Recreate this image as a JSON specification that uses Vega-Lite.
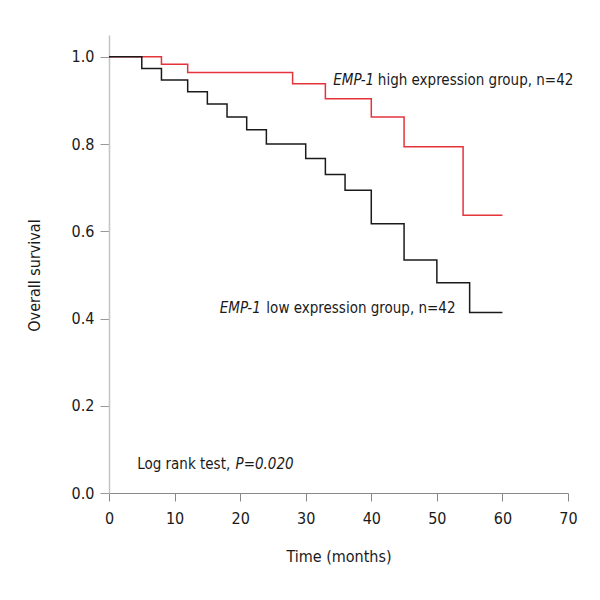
{
  "$schema": "https://vega.github.io/schema/vega-lite/v6.json",
  "autosize": {"type": "none"},
  "width": 459,
  "height": 458,
  "padding": {"left": 109, "top": 35, "right": 32, "bottom": 107},
  "background": "white",
  "config": {
    "view": {"stroke": null},
    "font": "DejaVu Sans Condensed",
    "axis": {"labelFont": "DejaVu Sans Condensed", "titleFont": "DejaVu Sans Condensed", "labelFontSize": 16, "titleFontSize": 16, "titleFontWeight": "normal", "labelColor": "#1a1a1a", "titleColor": "#1a1a1a", "grid": false, "labelFlush": false}
  },
  "datasets": {
    "curves": [
      {"group": "high", "time": 0, "survival": 1.0},
      {"group": "high", "time": 8, "survival": 0.983},
      {"group": "high", "time": 12, "survival": 0.964},
      {"group": "high", "time": 28, "survival": 0.938},
      {"group": "high", "time": 33, "survival": 0.904},
      {"group": "high", "time": 40, "survival": 0.862},
      {"group": "high", "time": 45, "survival": 0.794},
      {"group": "high", "time": 54, "survival": 0.637},
      {"group": "high", "time": 60, "survival": 0.637},
      {"group": "low", "time": 0, "survival": 1.0},
      {"group": "low", "time": 5, "survival": 0.973},
      {"group": "low", "time": 8, "survival": 0.947},
      {"group": "low", "time": 12, "survival": 0.92},
      {"group": "low", "time": 15, "survival": 0.892},
      {"group": "low", "time": 18, "survival": 0.862},
      {"group": "low", "time": 21, "survival": 0.833},
      {"group": "low", "time": 24, "survival": 0.8},
      {"group": "low", "time": 30, "survival": 0.767},
      {"group": "low", "time": 33, "survival": 0.73},
      {"group": "low", "time": 36, "survival": 0.694},
      {"group": "low", "time": 40, "survival": 0.617},
      {"group": "low", "time": 45, "survival": 0.534},
      {"group": "low", "time": 50, "survival": 0.482},
      {"group": "low", "time": 55, "survival": 0.414},
      {"group": "low", "time": 60, "survival": 0.414}
    ],
    "labels": [
      {"time": 34.2, "survival": 0.947, "text": "EMP-1", "italic": true},
      {"time": 41.0, "survival": 0.947, "text": "high expression group, n=42", "italic": false},
      {"time": 16.9, "survival": 0.424, "text": "EMP-1", "italic": true},
      {"time": 24.0, "survival": 0.424, "text": "low expression group, n=42", "italic": false},
      {"time": 4.3, "survival": 0.067, "text": "Log rank test,", "italic": false},
      {"time": 19.3, "survival": 0.067, "text": "P=0.020", "italic": true}
    ]
  },
  "layer": [
    {
      "data": {"name": "curves"},
      "transform": [{"filter": "datum.group === 'high'"}],
      "mark": {"type": "line", "interpolate": "step-after", "color": "#e5333c", "strokeWidth": 1.5},
      "encoding": {
        "x": {"field": "time", "type": "quantitative", "scale": {"domain": [0, 70], "nice": false},
          "axis": {"values": [0, 10, 20, 30, 40, 50, 60, 70], "title": "Time (months)", "tickSize": 8, "tickColor": "#888888", "domainColor": "#888888", "domainWidth": 1, "labelPadding": 9, "titlePadding": 22}},
        "y": {"field": "survival", "type": "quantitative", "scale": {"domain": [0, 1.05], "nice": false},
          "axis": {"values": [0, 0.2, 0.4, 0.6, 0.8, 1.0], "format": ".1f", "title": "Overall survival", "tickSize": 9, "tickColor": "#999999", "domainColor": "#c4c4c4", "domainWidth": 1.5, "labelPadding": 6, "titleX": -75, "titleY": 240, "titleAngle": -90, "titleAlign": "center", "titleBaseline": "middle"}}
      }
    },
    {
      "data": {"name": "curves"},
      "transform": [{"filter": "datum.group === 'low'"}],
      "mark": {"type": "line", "interpolate": "step-after", "color": "#1a1a1a", "strokeWidth": 1.5},
      "encoding": {
        "x": {"field": "time", "type": "quantitative"},
        "y": {"field": "survival", "type": "quantitative"}
      }
    },
    {
      "data": {"name": "labels"},
      "transform": [{"filter": "datum.italic"}],
      "mark": {"type": "text", "align": "left", "baseline": "middle", "fontSize": 15, "fontStyle": "italic", "color": "#1a1a1a", "font": "DejaVu Sans Condensed"},
      "encoding": {
        "x": {"field": "time", "type": "quantitative"},
        "y": {"field": "survival", "type": "quantitative"},
        "text": {"field": "text"}
      }
    },
    {
      "data": {"name": "labels"},
      "transform": [{"filter": "!datum.italic"}],
      "mark": {"type": "text", "align": "left", "baseline": "middle", "fontSize": 15, "color": "#1a1a1a", "font": "DejaVu Sans Condensed"},
      "encoding": {
        "x": {"field": "time", "type": "quantitative"},
        "y": {"field": "survival", "type": "quantitative"},
        "text": {"field": "text"}
      }
    }
  ]
}
